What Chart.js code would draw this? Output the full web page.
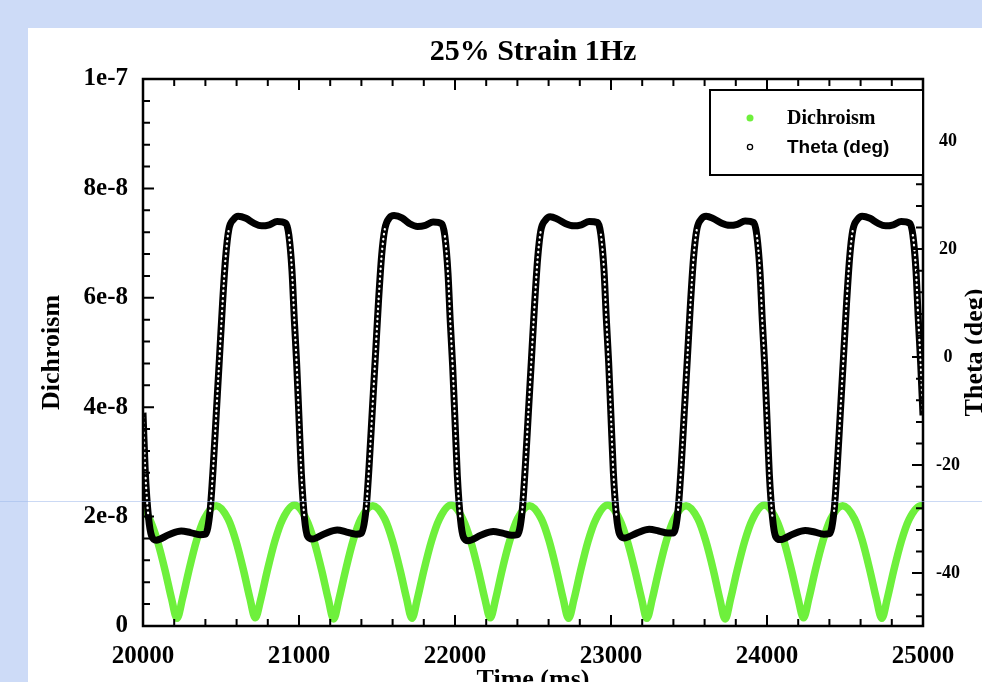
<!DOCTYPE html>
<html>
<head>
<meta charset="utf-8">
<script src="https://cdn.jsdelivr.net/npm/chart.js@4.4.0/dist/chart.umd.min.js"></script>
<style>
  html, body { margin: 0; padding: 0; overflow: hidden; }
  body { width: 982px; height: 682px; background: #cddbf7; position: relative; }
  #panel { position: absolute; left: 28px; top: 28px; right: 0; bottom: 0; background: #fff; }
  #wrap { position: absolute; left: 0; top: 0; width: 1000px; height: 700px; }
  #scanline { position: absolute; left: 0; top: 501px; width: 982px; height: 1px; background: rgba(160, 185, 235, 0.55); }
</style>
</head>
<body>
<div id="panel"></div>
<div id="wrap"><canvas id="strain" width="1000" height="700"></canvas></div>
<div id="scanline"></div>
<script>
// Dichroism, sampled around each minimum (ms)
var timeDichroism = [
    20000,
    20043, 20093, 20143, 20183, 20218, 20253, 20293, 20343, 20393, 20469,
    20545, 20595, 20645, 20685, 20720, 20755, 20795, 20845, 20895, 20971,
    21047, 21097, 21147, 21187, 21222, 21257, 21297, 21347, 21397, 21473,
    21549, 21599, 21649, 21689, 21724, 21759, 21799, 21849, 21899, 21975,
    22051, 22101, 22151, 22191, 22226, 22261, 22301, 22351, 22401, 22477,
    22553, 22603, 22653, 22693, 22728, 22763, 22803, 22853, 22903, 22979,
    23055, 23105, 23155, 23195, 23230, 23265, 23305, 23355, 23405, 23481,
    23557, 23607, 23657, 23697, 23732, 23767, 23807, 23857, 23907, 23983,
    24059, 24109, 24159, 24199, 24234, 24269, 24309, 24359, 24409, 24485,
    24561, 24611, 24661, 24701, 24736, 24771, 24811, 24861, 24911, 24987,
    25000
];
var dichroism = [
    2.14e-8,
    1.95e-8, 1.55e-8, 1.00e-8, 0.50e-8, 0.14e-8, 0.50e-8, 1.00e-8, 1.56e-8, 1.96e-8, 2.20e-8,
    1.96e-8, 1.56e-8, 1.01e-8, 0.51e-8, 0.15e-8, 0.49e-8, 0.99e-8, 1.55e-8, 1.95e-8, 2.21e-8,
    1.95e-8, 1.55e-8, 1.00e-8, 0.50e-8, 0.13e-8, 0.50e-8, 1.00e-8, 1.56e-8, 1.96e-8, 2.20e-8,
    1.96e-8, 1.56e-8, 1.01e-8, 0.51e-8, 0.14e-8, 0.50e-8, 1.00e-8, 1.55e-8, 1.95e-8, 2.21e-8,
    1.95e-8, 1.55e-8, 1.00e-8, 0.50e-8, 0.15e-8, 0.50e-8, 1.01e-8, 1.56e-8, 1.96e-8, 2.20e-8,
    1.96e-8, 1.56e-8, 1.00e-8, 0.50e-8, 0.14e-8, 0.49e-8, 0.99e-8, 1.55e-8, 1.95e-8, 2.21e-8,
    1.95e-8, 1.55e-8, 1.00e-8, 0.51e-8, 0.14e-8, 0.50e-8, 1.00e-8, 1.56e-8, 1.96e-8, 2.20e-8,
    1.96e-8, 1.56e-8, 1.01e-8, 0.50e-8, 0.13e-8, 0.50e-8, 1.00e-8, 1.55e-8, 1.95e-8, 2.21e-8,
    1.95e-8, 1.55e-8, 1.00e-8, 0.50e-8, 0.15e-8, 0.51e-8, 1.01e-8, 1.56e-8, 1.96e-8, 2.20e-8,
    1.96e-8, 1.56e-8, 1.00e-8, 0.50e-8, 0.14e-8, 0.50e-8, 1.00e-8, 1.55e-8, 1.95e-8, 2.20e-8,
    2.19e-8
];

// Theta (deg), square-ish response, one row per 1000 ms cycle
var timeTheta = [
    20000,
    20015, 20035, 20055, 20085, 20165, 20245, 20305, 20365, 20400, 20430, 20450, 20470, 20490, 20510,
    20530, 20550, 20580, 20610, 20660, 20710, 20760, 20810, 20860, 20915, 20935, 20955, 20970, 20985, 21000,
    21015, 21035, 21055, 21085, 21165, 21245, 21305, 21365, 21400, 21430, 21450, 21470, 21490, 21510,
    21530, 21550, 21580, 21610, 21660, 21710, 21760, 21810, 21860, 21915, 21935, 21955, 21970, 21985, 22000,
    22015, 22035, 22055, 22085, 22165, 22245, 22305, 22365, 22400, 22430, 22450, 22470, 22490, 22510,
    22530, 22550, 22580, 22610, 22660, 22710, 22760, 22810, 22860, 22915, 22935, 22955, 22970, 22985, 23000,
    23015, 23035, 23055, 23085, 23165, 23245, 23305, 23365, 23400, 23430, 23450, 23470, 23490, 23510,
    23530, 23550, 23580, 23610, 23660, 23710, 23760, 23810, 23860, 23915, 23935, 23955, 23970, 23985, 24000,
    24015, 24035, 24055, 24085, 24165, 24245, 24305, 24365, 24400, 24430, 24450, 24470, 24490, 24510,
    24530, 24550, 24580, 24610, 24660, 24710, 24760, 24810, 24860, 24915, 24935, 24955, 24970, 24985, 25000
];
var theta = [
    -10.3,
    -21.5, -29.6, -33.1, -33.9, -32.9, -32.2, -32.5, -32.9, -32.8, -28.5, -20.4, -10.3, -0.2, 10.0,
    18.6, 23.6, 25.5, 26.1, 25.7, 24.8, 24.3, 24.5, 25.1, 24.8, 22.6, 16.0, 6.9, -1.2, -11.3,
    -21.5, -29.8, -33.2, -33.7, -32.7, -32.0, -32.4, -32.8, -32.6, -28.1, -19.9, -9.8, 0.3, 10.5,
    18.9, 23.7, 25.8, 26.2, 25.8, 24.7, 24.2, 24.4, 25.0, 24.7, 22.4, 15.6, 6.4, -1.7, -11.8,
    -22.0, -30.0, -33.4, -34.0, -33.0, -32.3, -32.6, -33.0, -32.9, -28.7, -20.6, -10.5, -0.4, 9.7,
    18.3, 23.4, 25.4, 26.0, 25.5, 24.7, 24.3, 24.5, 25.1, 24.9, 22.7, 16.2, 7.1, -1.0, -11.1,
    -21.3, -29.4, -32.8, -33.5, -32.6, -31.9, -32.2, -32.6, -32.6, -28.3, -20.2, -10.1, 0.0, 10.2,
    18.7, 23.6, 25.6, 26.1, 25.6, 24.8, 24.4, 24.6, 25.2, 24.9, 22.5, 15.8, 6.7, -1.4, -11.5,
    -21.7, -29.7, -33.2, -33.8, -32.8, -32.1, -32.4, -32.8, -32.7, -28.5, -20.4, -10.3, -0.2, 10.0,
    18.5, 23.5, 25.5, 26.1, 25.7, 24.8, 24.3, 24.5, 25.1, 24.8, 22.6, 16.0, 6.9, -1.2, -10.8
];

var timeTicks = [20000, 21000, 22000, 23000, 24000, 25000];
var dichroismTicks = [0, 2e-8, 4e-8, 6e-8, 8e-8, 1e-7];
var thetaTicks = [-40, -20, 0, 20, 40];

var GREEN = '#6ef03c';
var SERIF = '"Liberation Serif", "Times New Roman", serif';
var SANS = '"Liberation Sans", Arial, sans-serif';

function toPoints(xs, ys) {
    return xs.map(function(x, i) { return {x: x, y: ys[i]}; });
}

function fixedTicks(values) {
    return function(scale) {
        scale.ticks = values.map(function(v) { return {value: v}; });
    };
}

// steep parts of the theta trace get a chain of white specks
function steep(c) {
    var dy = c.p1.parsed.y - c.p0.parsed.y;
    var dx = c.p1.parsed.x - c.p0.parsed.x;
    return Math.abs(dy / dx) > 0.2;
}

// inner tick marks, frame, legend box and right axis title
var decorations = {
    id: 'decorations',
    afterDatasetsDraw: function(chart) {
        var ctx = chart.ctx, a = chart.chartArea;
        var x = chart.scales.x, y = chart.scales.y, y2 = chart.scales.y2;
        var i, v, p, len;
        ctx.save();
        ctx.strokeStyle = '#000';
        ctx.lineWidth = 2;
        ctx.beginPath();
        for (i = 0; i <= 25; i++) {
            v = 20000 + i * 200;
            p = x.getPixelForValue(v);
            len = i % 5 === 0 ? 11 : 7;
            ctx.moveTo(p, a.bottom); ctx.lineTo(p, a.bottom - len);
            ctx.moveTo(p, a.top); ctx.lineTo(p, a.top + len);
        }
        for (i = 0; i <= 25; i++) {
            p = y.getPixelForValue(i * 4e-9);
            len = i % 5 === 0 ? 11 : 7;
            ctx.moveTo(a.left, p); ctx.lineTo(a.left + len, p);
        }
        for (i = -12; i <= 12; i++) {
            p = y2.getPixelForValue(i * 4);
            len = (i * 4) % 20 === 0 ? 11 : 7;
            ctx.moveTo(a.right, p); ctx.lineTo(a.right - len, p);
        }
        ctx.stroke();

        ctx.lineWidth = 2.5;
        ctx.strokeRect(a.left, a.top, a.right - a.left, a.bottom - a.top);

        // legend
        var bx = a.right - 213, by = a.top + 11, bw = 213, bh = 85;
        ctx.fillStyle = '#fff';
        ctx.fillRect(bx, by, bw, bh);
        ctx.lineWidth = 2;
        ctx.strokeRect(bx, by, bw, bh);
        ctx.fillStyle = GREEN;
        ctx.beginPath(); ctx.arc(bx + 40, by + 28, 3.5, 0, Math.PI * 2); ctx.fill();
        ctx.strokeStyle = '#000';
        ctx.lineWidth = 1.3;
        ctx.beginPath(); ctx.arc(bx + 40, by + 57, 2.6, 0, Math.PI * 2); ctx.stroke();
        ctx.fillStyle = '#000';
        ctx.textAlign = 'left';
        ctx.textBaseline = 'middle';
        ctx.font = 'bold 20px ' + SERIF;
        ctx.fillText('Dichroism', bx + 77, by + 29);
        ctx.font = 'bold 19px ' + SANS;
        ctx.fillText('Theta (deg)', bx + 77, by + 58);

        // right axis title reads bottom to top like the left one
        ctx.translate(a.right + 52, (a.top + a.bottom) / 2);
        ctx.rotate(-Math.PI / 2);
        ctx.textAlign = 'center';
        ctx.font = 'bold 26px ' + SERIF;
        ctx.fillText('Theta (deg)', 0, 0);
        ctx.restore();
    }
};

var ctx = document.getElementById('strain').getContext('2d');
var chart = new Chart(ctx, {
    type: 'line',
    data: {
        datasets: [{
            label: 'Theta (deg)',
            data: toPoints(timeTheta, theta),
            yAxisID: 'y2',
            borderColor: 'rgba(255,255,255,0)',
            borderWidth: 2.2,
            borderDash: [0.5, 4.5],
            borderCapStyle: 'round',
            cubicInterpolationMode: 'monotone',
            pointRadius: 0,
            order: 0,
            segment: {
                borderColor: function(c) { return steep(c) ? '#fff' : 'rgba(255,255,255,0)'; }
            }
        }, {
            label: 'Theta (deg)',
            data: toPoints(timeTheta, theta),
            yAxisID: 'y2',
            borderColor: '#000',
            borderWidth: 7,
            cubicInterpolationMode: 'monotone',
            pointRadius: 0,
            order: 1
        }, {
            label: 'Dichroism',
            data: toPoints(timeDichroism, dichroism),
            yAxisID: 'y',
            borderColor: GREEN,
            borderWidth: 7.5,
            cubicInterpolationMode: 'monotone',
            pointRadius: 0,
            order: 2
        }]
    },
    options: {
        responsive: false,
        animation: false,
        events: [],
        layout: { padding: 0 },
        plugins: {
            legend: { display: false },
            tooltip: { enabled: false },
            title: {
                display: true,
                fullSize: false,
                text: '25% Strain 1Hz',
                color: '#000',
                font: { family: SERIF, size: 30, weight: 'bold' },
                padding: { top: 34, bottom: 9 }
            }
        },
        scales: {
            x: {
                type: 'linear',
                position: 'bottom',
                min: 20000,
                max: 25000,
                afterBuildTicks: fixedTicks(timeTicks),
                afterFit: function(s) { s.height = 74; },
                grid: { display: false, drawTicks: false },
                border: { display: false },
                ticks: {
                    color: '#000',
                    font: { family: SERIF, size: 25, weight: 'bold' },
                    padding: 16,
                    maxRotation: 0,
                    autoSkip: false,
                    callback: function(v) { return String(v); }
                },
                title: {
                    display: true,
                    text: 'Time (ms)',
                    color: '#000',
                    font: { family: SERIF, size: 26, weight: 'bold' },
                    padding: { top: 0, bottom: 4 }
                }
            },
            y: {
                type: 'linear',
                position: 'left',
                min: 0,
                max: 1e-7,
                afterBuildTicks: fixedTicks(dichroismTicks),
                afterFit: function(s) { s.width = 143; },
                grid: { display: false, drawTicks: false },
                border: { display: false },
                ticks: {
                    color: '#000',
                    font: { family: SERIF, size: 25, weight: 'bold' },
                    padding: 15,
                    callback: function(v) { return v === 0 ? '0' : v.toExponential(0); }
                },
                title: {
                    display: true,
                    text: 'Dichroism',
                    color: '#000',
                    font: { family: SERIF, size: 26, weight: 'bold' },
                    padding: { top: 37, bottom: 0 }
                }
            },
            y2: {
                type: 'linear',
                position: 'right',
                min: -49.8,
                max: 51.5,
                afterBuildTicks: fixedTicks(thetaTicks),
                afterFit: function(s) { s.width = 77; },
                grid: { display: false, drawTicks: false },
                border: { display: false },
                ticks: {
                    color: '#000',
                    font: { family: SERIF, size: 18, weight: 'bold' },
                    padding: 13,
                    crossAlign: 'center'
                }
            }
        }
    },
    plugins: [decorations]
});
</script>
</body>
</html>
